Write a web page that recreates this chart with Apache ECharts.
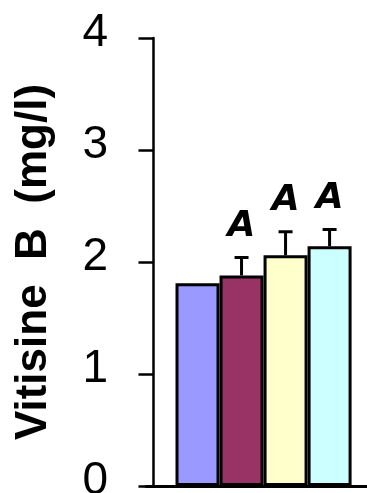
<!DOCTYPE html>
<html><head><meta charset="utf-8">
<script src="https://cdn.jsdelivr.net/npm/echarts@6/dist/echarts.min.js"></script>
<style>html,body{margin:0;padding:0;background:#fff}#c{width:367px;height:493px}</style></head>
<body><div id="c"></div>
<script>
const groups = ['G1', 'G2', 'G3', 'G4'];
const positions = [1, 2, 3, 4];
const means = [1.81, 1.88, 2.06, 2.14];
const errors = [0, 0.16, 0.21, 0.15];
const letters = ['', 'A', 'A', 'A'];
const colors = ['#9999FF', '#993366', '#FFFFCC', '#CCFFFF'];
const yName = 'Vitisine  B  (mg/l)';

const chart = echarts.init(document.getElementById('c'), null, {renderer: 'canvas'});
const barData = positions.map((p, i) => ({
  value: [p, means[i]],
  name: groups[i],
  itemStyle: {color: colors[i], borderColor: '#000', borderWidth: 3}
}));
const errData = positions.map((p, i) => [p, means[i], errors[i]]);

chart.setOption({
  animation: false,
  backgroundColor: '#fff',
  grid: {left: 146, right: 0, top: 38, bottom: 7, containLabel: false, outerBoundsMode: 'none'},
  xAxis: {
    type: 'value', min: -0.17, max: 4.85,
    axisLine: {show: true, lineStyle: {color: '#000', width: 3}},
    axisTick: {show: false}, axisLabel: {show: false}, splitLine: {show: false}
  },
  yAxis: {
    type: 'value', min: 0, max: 4, interval: 1,
    name: yName, nameLocation: 'middle', nameGap: 90, nameRotate: 90,
    nameTextStyle: {fontFamily: 'Liberation Sans', fontWeight: 'bold', fontSize: 44, color: '#000'},
    axisLine: {show: true, lineStyle: {color: '#000', width: 2.5}},
    axisTick: {show: true, inside: false, length: 15, lineStyle: {color: '#000', width: 2.5}},
    axisLabel: {fontFamily: 'Liberation Sans', fontSize: 46, color: '#000', margin: 38,
      verticalAlign: 'bottom', lineHeight: 10},
    splitLine: {show: false}
  },
  series: [
    {type: 'bar', data: barData, barWidth: 44, z: 2},
    {
      type: 'custom', z: 3, data: errData,
      renderItem: function (params, api) {
        const x = api.value(0), m = api.value(1), e = api.value(2);
        const base = api.coord([x, m]);
        const top = api.coord([x, m + e]);
        const children = [];
        if (e > 0) {
          children.push({type: 'line', shape: {x1: base[0], y1: base[1], x2: top[0], y2: top[1]}, style: {stroke: '#000', lineWidth: 3}});
          children.push({type: 'line', shape: {x1: top[0] - 7, y1: top[1], x2: top[0] + 7, y2: top[1]}, style: {stroke: '#000', lineWidth: 3}});
        }
        const t = letters[params.dataIndex];
        if (t) {
          children.push({type: 'text', style: {text: t, x: top[0], y: top[1] - 13, align: 'center', verticalAlign: 'bottom',
            font: 'italic bold 36px "DejaVu Sans"', fill: '#000'}});
        }
        return {type: 'group', children: children};
      }
    }
  ]
});
</script></body></html>
